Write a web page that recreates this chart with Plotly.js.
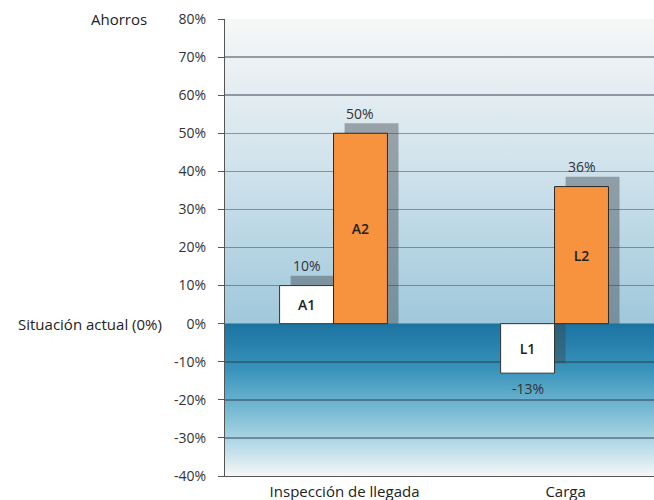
<!DOCTYPE html>
<html>
<head>
<meta charset="utf-8">
<script src="https://cdn.plot.ly/plotly-3.0.1.min.js"></script>
<style>
  html, body { margin: 0; padding: 0; background: #ffffff; }
  #chart { width: 654px; height: 500px; }
</style>
</head>
<body>
<div id="chart"></div>
<script>
// Savings against the current situation, per process step
const categories = ['Inspección de llegada', 'Carga'];
const firstLabels = ['A1', 'L1'];
const firstValues = [10, -13];
const secondLabels = ['A2', 'L2'];
const secondValues = [50, 36];
const yTickValues = [-40, -30, -20, -10, 0, 10, 20, 30, 40, 50, 60, 70, 80];
const yTickText = yTickValues.map(v => v + '%');

// Geometry / styling
const FONT = '"Open Sans", "DejaVu Sans", sans-serif';
const BAR_W = 0.244;        // width of each bar in category units
const SHADOW_DX = 0.05;     // horizontal shadow shift (category units)
const SHADOW_DY = 2.6;      // vertical shadow shift (percentage points)
const LABEL_SHIFT = 0.05;   // category label offset from group centre
const xIdx = categories.map((_, i) => i);

function gradientSvg(stops) {
  const s = stops.map(([o, c]) => `<stop offset="${o}" stop-color="${c}"/>`).join('');
  const svg = `<svg xmlns="http://www.w3.org/2000/svg" width="100" height="100" preserveAspectRatio="none">` +
    `<defs><linearGradient id="g" x1="0" y1="0" x2="0" y2="1">${s}</linearGradient></defs>` +
    `<rect x="0" y="0" width="100" height="100" fill="url(#g)"/></svg>`;
  return 'data:image/svg+xml;utf8,' + encodeURIComponent(svg);
}

const upperBg = gradientSvg([[0, '#f7f7f7'], [0.5, '#cfe2ec'], [1, '#9fc8db']]);
const lowerBg = gradientSvg([[0, '#1b73a1'], [0.3, '#3893bb'], [0.6, '#7fbfd6'], [0.85, '#c6e2ec'], [1, '#f6f7f7']]);

const shadowColor = 'rgba(60,66,72,0.42)';
// the shadow rises from the baseline to the bar end, pushed up a little
const shadowEnd = v => v + SHADOW_DY;

const traces = [
  // drop shadows (drawn first, behind the bars)
  {
    type: 'bar', x: xIdx, y: firstValues.map(shadowEnd),
    width: BAR_W, offset: -BAR_W + SHADOW_DX,
    marker: { color: shadowColor, line: { width: 0 } },
    hoverinfo: 'skip', showlegend: false
  },
  {
    type: 'bar', x: xIdx, y: secondValues.map(shadowEnd),
    width: BAR_W, offset: SHADOW_DX,
    marker: { color: shadowColor, line: { width: 0 } },
    hoverinfo: 'skip', showlegend: false
  },
  // white bars: current alternatives
  {
    type: 'bar', x: xIdx, y: firstValues, width: BAR_W, offset: -BAR_W,
    text: firstLabels, textposition: 'inside', insidetextanchor: 'middle',
    textfont: { family: FONT, size: 14, color: '#222222', weight: 600 },
    marker: { color: '#ffffff', line: { color: '#333333', width: 1 } },
    showlegend: false
  },
  // orange bars: proposed alternatives
  {
    type: 'bar', x: xIdx, y: secondValues, width: BAR_W, offset: 0,
    text: secondLabels, textposition: 'inside', insidetextanchor: 'middle',
    textfont: { family: FONT, size: 14, color: '#222222', weight: 600 },
    marker: { color: '#f7923f', line: { color: '#2a2a2a', width: 1 } },
    showlegend: false
  }
];

// value labels above / below each bar
const annotations = [];
function addValueLabels(values, centreOffset) {
  values.forEach((v, i) => {
    annotations.push({
      x: i + centreOffset, y: v, xref: 'x', yref: 'y',
      text: v + '%', showarrow: false,
      xanchor: 'center', yanchor: 'middle',
      yshift: v >= 0 ? 20 : -15,
      font: { family: FONT, size: 14, color: '#333333' }
    });
  });
}
addValueLabels(firstValues, -BAR_W / 2);
addValueLabels(secondValues, BAR_W / 2);

annotations.push(
  {
    xref: 'paper', yref: 'y', x: -0.177, y: 80, text: 'Ahorros', showarrow: false,
    xanchor: 'right', yanchor: 'middle', font: { family: FONT, size: 15, color: '#222222' }
  },
  {
    xref: 'paper', yref: 'y', x: -0.142, y: 0, text: 'Situación actual (0%)', showarrow: false,
    xanchor: 'right', yanchor: 'middle', font: { family: FONT, size: 15, color: '#222222' }
  }
);

const layout = {
  width: 654, height: 500,
  margin: { l: 225, r: 0, t: 19, b: 24, pad: 0 },
  paper_bgcolor: '#ffffff', plot_bgcolor: '#ffffff',
  barmode: 'overlay',
  showlegend: false,
  font: { family: FONT, size: 14, color: '#333333' },
  xaxis: {
    range: [-0.491, 1.450],
    tickvals: xIdx.map(i => i + LABEL_SHIFT),
    ticktext: categories,
    ticks: '', showgrid: false, zeroline: false,
    showline: true, linecolor: '#555555', linewidth: 1,
    ticklabelstandoff: 2,
    tickfont: { family: FONT, size: 15, color: '#222222' },
    fixedrange: true
  },
  yaxis: {
    range: [-40, 80],
    tickvals: yTickValues, ticktext: yTickText,
    ticks: 'outside', ticklen: 6, tickcolor: '#555555', tickwidth: 1,
    ticklabelstandoff: 9,
    showgrid: true, gridcolor: 'rgba(40,52,62,0.45)', gridwidth: 1.5,
    zeroline: false,
    showline: true, linecolor: '#555555', linewidth: 1,
    tickfont: { family: FONT, size: 14, color: '#333333' },
    fixedrange: true
  },
  images: [
    {
      source: upperBg, xref: 'paper', yref: 'y', x: 0, y: 80, sizex: 1, sizey: 80,
      xanchor: 'left', yanchor: 'top', sizing: 'stretch', layer: 'below'
    },
    {
      source: lowerBg, xref: 'paper', yref: 'y', x: 0, y: 0, sizex: 1, sizey: 40,
      xanchor: 'left', yanchor: 'top', sizing: 'stretch', layer: 'below'
    }
  ],
  annotations: annotations
};

Plotly.newPlot('chart', traces, layout, { displayModeBar: false, staticPlot: true });
</script>
</body>
</html>
